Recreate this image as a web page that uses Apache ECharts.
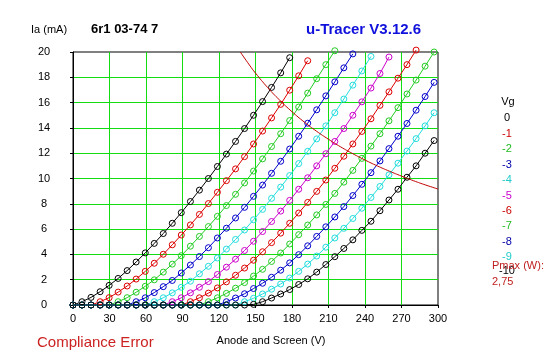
<!DOCTYPE html>
<html>
<head>
<meta charset="utf-8">
<script src="https://cdn.jsdelivr.net/npm/echarts@6/dist/echarts.min.js"></script>
<style>html,body{margin:0;padding:0;background:#fff;}#c{width:547px;height:357px;}</style>
</head>
<body>
<div id="c"></div>
<script>
// Anode voltage of each measurement step (V)
var V = [0, 7.4, 14.8, 22.3, 29.7, 37.1, 44.5, 51.9, 59.4, 66.8, 74.2, 81.6, 89.0, 96.5, 103.9, 111.3, 118.7, 126.1, 133.6, 141.0, 148.4, 155.8, 163.2, 170.7, 178.1, 185.5, 192.9, 200.3, 207.8, 215.2, 222.6, 230.0, 237.4, 244.9, 252.3, 259.7, 267.1, 274.5, 282.0, 289.4, 296.8];

// Anode current (mA) per grid voltage
var Ia_g0 = [0, 0.26, 0.6, 1.05, 1.55, 2.1, 2.72, 3.4, 4.12, 4.87, 5.65, 6.46, 7.3, 8.18, 9.08, 10.0, 10.95, 11.93, 12.93, 13.95, 15.0, 16.08, 17.2, 18.35, 19.55];
var Ia_g1 = [0, 0, 0, 0.26, 0.58, 1.02, 1.5, 2.05, 2.66, 3.3, 4.01, 4.76, 5.53, 6.33, 7.16, 8.02, 8.91, 9.83, 10.76, 11.73, 12.73, 13.75, 14.79, 15.86, 16.98, 18.12, 19.31];
var Ia_g2 = [0, 0, 0, 0, 0, 0.26, 0.58, 1.01, 1.48, 1.99, 2.6, 3.23, 3.9, 4.65, 5.42, 6.2, 7.01, 7.86, 8.75, 9.65, 10.59, 11.55, 12.53, 13.54, 14.58, 15.65, 16.75, 17.89, 19.0, 20.1];
var Ia_g3 = [0, 0, 0, 0, 0, 0, 0, 0.26, 0.57, 0.98, 1.45, 1.94, 2.53, 3.16, 3.83, 4.53, 5.3, 6.07, 6.88, 7.72, 8.59, 9.48, 10.41, 11.36, 12.33, 13.34, 14.37, 15.43, 16.53, 17.64, 18.75, 19.85];
var Ia_g4 = [0, 0, 0, 0, 0, 0, 0, 0, 0, 0.26, 0.57, 0.96, 1.4, 1.88, 2.47, 3.06, 3.72, 4.42, 5.18, 5.93, 6.74, 7.56, 8.43, 9.32, 10.23, 11.18, 12.15, 13.13, 14.16, 15.2, 16.28, 17.38, 18.5, 19.65];
var Ia_g5 = [0, 0, 0, 0, 0, 0, 0, 0, 0, 0, 0, 0.26, 0.57, 0.96, 1.4, 1.85, 2.41, 2.99, 3.62, 4.31, 5.04, 5.81, 6.6, 7.42, 8.27, 9.15, 10.06, 11.0, 11.96, 12.93, 13.95, 15.0, 16.06, 17.15, 18.3, 19.6];
var Ia_g6 = [0, 0, 0, 0, 0, 0, 0, 0, 0, 0, 0, 0, 0, 0.26, 0.57, 0.94, 1.35, 1.83, 2.35, 2.92, 3.54, 4.21, 4.93, 5.68, 6.46, 7.27, 8.11, 8.98, 9.88, 10.81, 11.76, 12.73, 13.72, 14.72, 15.78, 16.85, 17.93, 19.0, 20.15];
var Ia_g7 = [0, 0, 0, 0, 0, 0, 0, 0, 0, 0, 0, 0, 0, 0, 0, 0.26, 0.57, 0.92, 1.33, 1.77, 2.29, 2.82, 3.44, 4.11, 4.82, 5.56, 6.32, 7.12, 7.95, 8.82, 9.71, 10.64, 11.59, 12.56, 13.54, 14.56, 15.6, 16.68, 17.78, 18.88, 20.0];
var Ia_g8 = [0, 0, 0, 0, 0, 0, 0, 0, 0, 0, 0, 0, 0, 0, 0, 0, 0, 0.26, 0.55, 0.89, 1.3, 1.72, 2.19, 2.75, 3.33, 3.98, 4.68, 5.42, 6.18, 6.96, 7.78, 8.65, 9.54, 10.46, 11.39, 12.36, 13.34, 14.35, 15.4, 16.48, 17.6];
var Ia_g9 = [0, 0, 0, 0, 0, 0, 0, 0, 0, 0, 0, 0, 0, 0, 0, 0, 0, 0, 0, 0.26, 0.53, 0.87, 1.25, 1.66, 2.13, 2.66, 3.23, 3.87, 4.57, 5.3, 6.06, 6.84, 7.65, 8.5, 9.37, 10.29, 11.21, 12.17, 13.15, 14.16, 15.2];
var Ia_g10 = [0, 0, 0, 0, 0, 0, 0, 0, 0, 0, 0, 0, 0, 0, 0, 0, 0, 0, 0, 0, 0.05, 0.26, 0.55, 0.87, 1.22, 1.62, 2.07, 2.6, 3.2, 3.82, 4.47, 5.15, 5.9, 6.62, 7.45, 8.3, 9.15, 10.1, 11.0, 12.0, 13.0];

var grids = ['0', '-1', '-2', '-3', '-4', '-5', '-6', '-7', '-8', '-9', '-10'];
var curves = [Ia_g0, Ia_g1, Ia_g2, Ia_g3, Ia_g4, Ia_g5, Ia_g6, Ia_g7, Ia_g8, Ia_g9, Ia_g10];

// Maximum anode dissipation curve (2.75 W)
var Pmax_V = [137.5, 145, 150, 160, 170, 180, 190, 200, 210, 220, 230, 240, 250, 260, 270, 280, 290, 300];
var Pmax_I = [20.0, 18.97, 18.33, 17.19, 16.18, 15.28, 14.47, 13.75, 13.10, 12.5, 11.96, 11.46, 11.0, 10.58, 10.19, 9.82, 9.48, 9.17];

var xTicks = [0, 30, 60, 90, 120, 150, 180, 210, 240, 270, 300];
var yTicks = [0, 2, 4, 6, 8, 10, 12, 14, 16, 18, 20];

var lineColors = ['#000000', '#dd0000', '#22cc22', '#0000cc', '#22dddd', '#cc00cc', '#dd0000', '#22cc22', '#0000cc', '#22dddd', '#000000'];
var textColors = ['#000000', '#cc0000', '#22bb22', '#0000aa', '#22cccc', '#cc00cc', '#cc0000', '#22bb22', '#0000aa', '#22cccc', '#000000'];

var FONT = '"Liberation Sans", Arial, sans-serif';

var series = curves.map(function (arr, n) {
  return {
    type: 'line',
    name: grids[n],
    data: arr.map(function (v, i) { return [V[i], v]; }),
    symbol: 'circle',
    symbolSize: 6,
    clip: false,
    color: lineColors[n],
    lineStyle: { color: lineColors[n], width: 1 },
    itemStyle: { color: 'rgba(255,255,255,0)', borderColor: lineColors[n], borderWidth: 1 },
    emphasis: { disabled: true },
    z: 3
  };
});
series.push({
  type: 'line',
  name: 'Pmax',
  data: Pmax_V.map(function (v, i) { return [v, Pmax_I[i]]; }),
  symbol: 'none',
  smooth: true,
  lineStyle: { color: '#c00000', width: 1 },
  z: 4
});

var graphics = [
  { type: 'text', left: 31, top: 24, style: { text: 'Ia (mA)', font: '11px ' + FONT, fill: '#000' } },
  { type: 'text', left: 91, top: 23, style: { text: '6r1 03-74 7', font: 'bold 13px ' + FONT, fill: '#000' } },
  { type: 'text', left: 306, top: 22, style: { text: 'u-Tracer V3.12.6', font: 'bold 15px ' + FONT, fill: '#1010dd' } },
  { type: 'text', x: 271, y: 341, style: { text: 'Anode and Screen (V)', font: '11px ' + FONT, fill: '#000', textAlign: 'center', textVerticalAlign: 'middle' } },
  { type: 'text', x: 37, y: 343, style: { text: 'Compliance Error', font: '15px ' + FONT, fill: '#cc2222', textAlign: 'left', textVerticalAlign: 'middle' } },
  { type: 'text', x: 508, y: 102, style: { text: 'Vg', font: '11px ' + FONT, fill: '#000', textAlign: 'center', textVerticalAlign: 'middle' } }
];
var legendY = [118, 133.5, 149, 164.5, 180, 195.5, 211, 226, 241.5, 256.5, 271];
grids.forEach(function (g, n) {
  graphics.push({ type: 'text', x: 507, y: legendY[n], style: { text: g, font: '11px ' + FONT, fill: textColors[n], textAlign: 'center', textVerticalAlign: 'middle' } });
});
graphics.push({ type: 'text', x: 492, y: 266, style: { text: 'Pmax (W):', font: '11px ' + FONT, fill: '#c02020', textAlign: 'left', textVerticalAlign: 'middle' } });
graphics.push({ type: 'text', x: 492, y: 282, style: { text: '2,75', font: '11px ' + FONT, fill: '#c02020', textAlign: 'left', textVerticalAlign: 'middle' } });

var chart = echarts.init(document.getElementById('c'), null, { renderer: 'canvas' });
chart.setOption({
  animation: false,
  backgroundColor: '#ffffff',
  grid: { left: 73, right: 109, top: 52, bottom: 52, show: true, borderColor: '#000', borderWidth: 1, backgroundColor: 'transparent' },
  xAxis: {
    type: 'value', min: xTicks[0], max: xTicks[xTicks.length - 1], interval: 30,
    axisLine: { show: true, lineStyle: { color: '#000', width: 1 } },
    axisTick: { show: true, length: 3, lineStyle: { color: '#000' } },
    axisLabel: { color: '#000', fontSize: 11, fontFamily: FONT, margin: 8 },
    splitLine: { show: true, showMinLine: false, showMaxLine: false, lineStyle: { color: '#11dd11', width: 1 } }
  },
  yAxis: {
    type: 'value', min: yTicks[0], max: yTicks[yTicks.length - 1], interval: 2,
    axisLine: { show: true, lineStyle: { color: '#000', width: 1 } },
    axisTick: { show: true, length: 3, lineStyle: { color: '#000' } },
    axisLabel: { color: '#000', fontSize: 11, fontFamily: FONT, margin: 29, align: 'center' },
    splitLine: { show: true, showMinLine: false, showMaxLine: false, lineStyle: { color: '#11dd11', width: 1 } }
  },
  graphic: graphics,
  series: series
});
</script>
</body>
</html>
